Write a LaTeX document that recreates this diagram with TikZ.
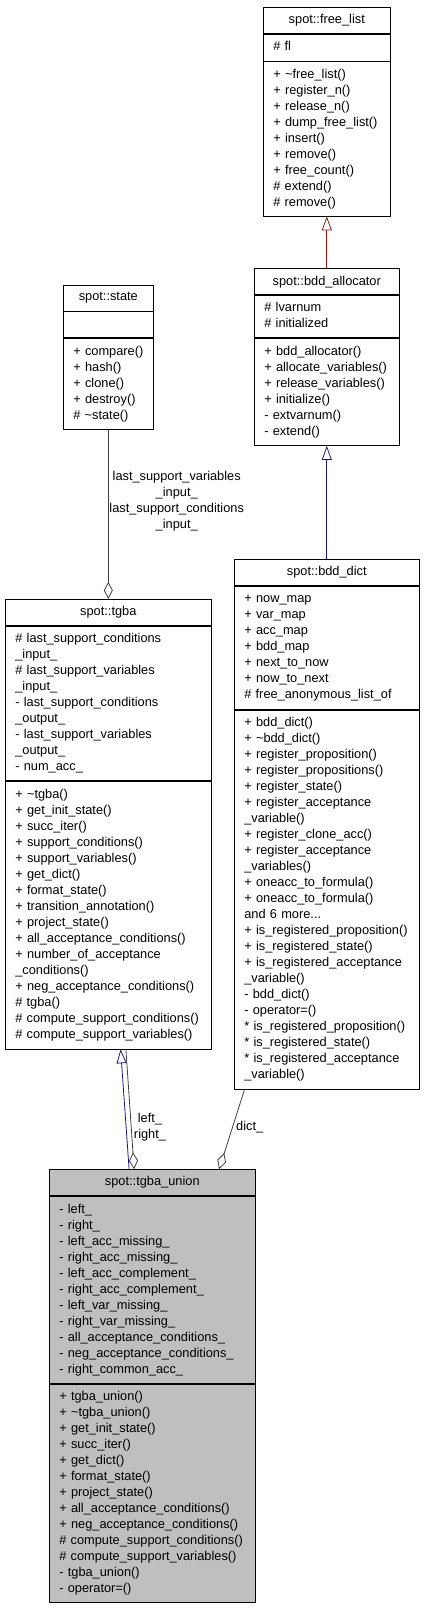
\documentclass[tikz,border=0pt]{standalone}
\usepackage{fontspec}
\setmainfont{Liberation Sans}
\usepackage{tikz}
\usetikzlibrary{arrows.meta,positioning,calc}

\definecolor{privred}{HTML}{8B1A1A}
\definecolor{pubblue}{HTML}{191970}
\definecolor{usegray}{HTML}{404040}
\definecolor{focusgray}{HTML}{BFBFBF}
\newcommand{\umlfont}{\fontsize{12.8}{16}\selectfont\hyphenpenalty=10000\exhyphenpenalty=10000}

\begin{document}
\begin{tikzpicture}[x=1pt, y=-1pt,
    titlebox/.style={rectangle, draw, line width=0.8pt, minimum height=26pt, inner sep=0pt, font=\umlfont},
    partbox/.style={rectangle, draw, line width=0.8pt, inner xsep=10pt, inner ysep=0pt, align=left, font=\umlfont,
        execute at begin node=\strut, execute at end node=\strut},
    inherit/.style={-{Triangle[open, length=14pt, width=10pt]}, line width=0.8pt},
    member/.style={-{Diamond[open, length=17pt, width=9pt]}, draw=usegray, line width=0.8pt},
    edgelabel/.style={font=\umlfont, align=center, inner sep=0pt}
]
    \useasboundingbox (0,0) rectangle (424,1608);

    % Top right: spot::free_list
    \node[titlebox, minimum width=127pt] (freelist) at (326.8,20.3) {spot::free\_list};
    \node[partbox, text width=107pt, minimum height=27pt, below=0pt of freelist] (freelistattr) {\#~fl};
    \node[partbox, text width=107pt, minimum height=154pt, below=0pt of freelistattr] (freelistops)
        {+~\textasciitilde free\_list()\\ +~register\_n()\\ +~release\_n()\\ +~dump\_free\_list()\\ +~insert()\\
         +~remove()\\ +~free\_count()\\ \#~extend()\\ \#~remove()};

    % spot::bdd_allocator
    \node[titlebox, minimum width=145pt] (bddalloc) at (326.8,281.8) {spot::bdd\_allocator};
    \node[partbox, text width=125pt, minimum height=42pt, below=0pt of bddalloc] (bddallocattr)
        {\#~lvarnum\\ \#~initialized};
    \node[partbox, text width=125pt, minimum height=107pt, below=0pt of bddallocattr] (bddallocops)
        {+~bdd\_allocator()\\ +~allocate\_variables()\\ +~release\_variables()\\ +~initialize()\\
         -~extvarnum()\\ -~extend()};

    % Left: spot::state
    \node[titlebox, minimum width=90pt] (state) at (108.3,298) {spot::state};
    \node[partbox, text width=70pt, minimum height=26pt, below=0pt of state] (stateattr) {};
    \node[partbox, text width=70pt, minimum height=91pt, below=0pt of stateattr] (stateops)
        {+~compare()\\ +~hash()\\ +~clone()\\ +~destroy()\\ \#~\textasciitilde state()};

    % spot::bdd_dict
    \node[titlebox, minimum width=185pt] (bdddict) at (326.8,572.3) {spot::bdd\_dict};
    \node[partbox, text width=165pt, minimum height=123pt, below=0pt of bdddict] (bdddictattr)
        {+~now\_map\\ +~var\_map\\ +~acc\_map\\ +~bdd\_map\\ +~next\_to\_now\\ +~now\_to\_next\\
         \#~free\_anonymous\_list\_of};
    \node[partbox, text width=165pt, minimum height=379pt, below=0pt of bdddictattr] (bdddictops)
        {+~bdd\_dict()\\ +~\textasciitilde bdd\_dict()\\ +~register\_proposition()\\ +~register\_propositions()\\
         +~register\_state()\\ +~register\_acceptance\\ \_variable()\\ +~register\_clone\_acc()\\
         +~register\_acceptance\\ \_variables()\\ +~oneacc\_to\_formula()\\ +~oneacc\_to\_formula()\\
         and 6 more...\\ +~is\_registered\_proposition()\\ +~is\_registered\_state()\\
         +~is\_registered\_acceptance\\ \_variable()\\ -~bdd\_dict()\\ -~operator=()\\
         {*}~is\_registered\_proposition()\\ {*}~is\_registered\_state()\\
         {*}~is\_registered\_acceptance\\ \_variable()};

    % spot::tgba
    \node[titlebox, minimum width=206pt] (tgba) at (108.3,612.3) {spot::tgba};
    \node[partbox, text width=186pt, minimum height=154.7pt, below=0pt of tgba] (tgbaattr)
        {\#~last\_support\_conditions\\ \_input\_\\ \#~last\_support\_variables\\ \_input\_\\
         -~last\_support\_conditions\\ \_output\_\\ -~last\_support\_variables\\ \_output\_\\ -~num\_acc\_};
    \node[partbox, text width=186pt, minimum height=267.3pt, below=0pt of tgbaattr] (tgbaops)
        {+~\textasciitilde tgba()\\ +~get\_init\_state()\\ +~succ\_iter()\\ +~support\_conditions()\\
         +~support\_variables()\\ +~get\_dict()\\ +~format\_state()\\ +~transition\_annotation()\\
         +~project\_state()\\ +~all\_acceptance\_conditions()\\ +~number\_of\_acceptance\\ \_conditions()\\
         +~neg\_acceptance\_conditions()\\ \#~tgba()\\ \#~compute\_support\_conditions()\\
         \#~compute\_support\_variables()};

    % Bottom: spot::tgba_union (the documented class)
    \node[titlebox, minimum width=206pt, fill=focusgray] (tgbaunion) at (152.3,1182.6) {spot::tgba\_union};
    \node[partbox, text width=186pt, minimum height=187pt, fill=focusgray, below=0pt of tgbaunion] (tgbaunionattr)
        {-~left\_\\ -~right\_\\ -~left\_acc\_missing\_\\ -~right\_acc\_missing\_\\ -~left\_acc\_complement\_\\
         -~right\_acc\_complement\_\\ -~left\_var\_missing\_\\ -~right\_var\_missing\_\\
         -~all\_acceptance\_conditions\_\\ -~neg\_acceptance\_conditions\_\\ -~right\_common\_acc\_};
    \node[partbox, text width=186pt, minimum height=218pt, fill=focusgray, below=0pt of tgbaunionattr] (tgbaunionops)
        {+~tgba\_union()\\ +~\textasciitilde tgba\_union()\\ +~get\_init\_state()\\ +~succ\_iter()\\ +~get\_dict()\\
         +~format\_state()\\ +~project\_state()\\ +~all\_acceptance\_conditions()\\
         +~neg\_acceptance\_conditions()\\ \#~compute\_support\_conditions()\\
         \#~compute\_support\_variables()\\ -~tgba\_union()\\ -~operator=()};

    % Inheritance
    \draw[inherit, privred] (bddalloc.north) -- (freelistops.south);
    \draw[inherit, pubblue] (bdddict.north) -- (bddallocops.south);
    \draw[inherit, pubblue] ([xshift=80.2pt]tgbaunion.north west) -- ([xshift=115.7pt]tgbaops.south west);

    % Members
    \draw[member] (stateops.south) -- (tgba.north);
    \node[edgelabel] (statelabel) at (176.7,500.7)
        {last\_support\_variables\\ \_input\_\\ last\_support\_conditions\\ \_input\_};
    \draw[member] ([xshift=121pt]tgbaops.south west) -- ([xshift=85.2pt]tgbaunion.north west);
    \node[edgelabel] (tgbalabel) at (150,1127.3) {left\_\\ right\_};
    \draw[member] ([xshift=10.7pt]bdddictops.south west) -- ([xshift=170.2pt]tgbaunion.north west);
    \node[edgelabel, anchor=west] (dictlabel) at (236,1127.3) {dict\_};
\end{tikzpicture}
\end{document}
